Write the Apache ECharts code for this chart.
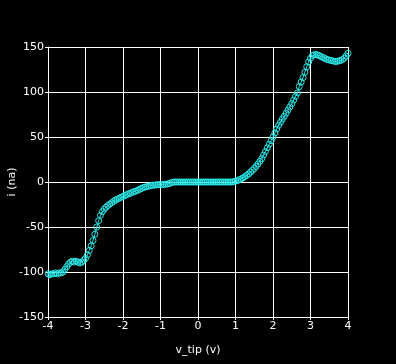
<!DOCTYPE html>
<html>
<head>
<meta charset="utf-8">
<script src="https://cdn.jsdelivr.net/npm/echarts@6/dist/echarts.min.js"></script>
<style>html,body{margin:0;padding:0;background:#000;}#c{width:396px;height:364px;}</style>
</head>
<body>
<div id="c"></div>
<script>
var vTip = [-4.00,-3.95,-3.90,-3.85,-3.80,-3.75,-3.70,-3.65,-3.60,-3.55,-3.50,-3.45,-3.40,-3.35,-3.30,-3.25,-3.20,-3.15,-3.10,-3.05,
-3.00,-2.95,-2.90,-2.85,-2.80,-2.75,-2.70,-2.65,-2.60,-2.55,-2.50,-2.45,-2.40,-2.35,-2.30,-2.25,-2.20,-2.15,-2.10,-2.05,
-2.00,-1.95,-1.90,-1.85,-1.80,-1.75,-1.70,-1.65,-1.60,-1.55,-1.50,-1.45,-1.40,-1.35,-1.30,-1.25,-1.20,-1.15,-1.10,-1.05,
-1.00,-0.95,-0.90,-0.85,-0.80,-0.75,-0.70,-0.65,-0.60,-0.55,-0.50,-0.45,-0.40,-0.35,-0.30,-0.25,-0.20,-0.15,-0.10,-0.05,
0.00,0.05,0.10,0.15,0.20,0.25,0.30,0.35,0.40,0.45,0.50,0.55,0.60,0.65,0.70,0.75,0.80,0.85,0.90,0.95,
1.00,1.05,1.10,1.15,1.20,1.25,1.30,1.35,1.40,1.45,1.50,1.55,1.60,1.65,1.70,1.75,1.80,1.85,1.90,1.95,
2.00,2.05,2.10,2.15,2.20,2.25,2.30,2.35,2.40,2.45,2.50,2.55,2.60,2.65,2.70,2.75,2.80,2.85,2.90,2.95,
3.00,3.05,3.10,3.15,3.20,3.25,3.30,3.35,3.40,3.45,3.50,3.55,3.60,3.65,3.70,3.75,3.80,3.85,3.90,3.95,4.00];
var current = [-102,-103,-102,-102,-101,-102,-101,-101,-100,-97,-94,-91,-89,-88,-89,-88,-89,-90,-89,-87,
-85,-81,-76,-71,-65,-58,-50,-43,-37,-33,-30,-28,-26,-24.5,-23,-21.5,-20,-19,-18,-17,
-16,-15,-14,-13,-12.5,-11.5,-10.5,-10,-9,-8,-7,-6,-5.5,-5,-4.5,-4,-3.5,-3.5,-3,-3,
-3,-3,-2.5,-2.5,-2,-1.5,-0.5,0,0,0,0,0,0,0,0,0,0,0,0,0,
0,0,0,0,0,0,0,0,0,0,0,0,0,0,0,0,0,0,0,0.5,
1,1.5,2.5,3.5,4.5,6,7.5,9,11,13,15,17.5,20,23,26,30,34,38,42,46,
50,54.5,59,63,66.5,70,73,76.5,80,83.5,87,91,95,99,106,111,116,122,128,133.5,
137.5,140.5,141.5,141.5,141,140,139,138,137,136,135.5,135,134.5,134,134,134.5,135,136,137.5,140,143];
var xTicks = {min: -4, max: 4, step: 1};
var yTicks = {min: -150, max: 150, step: 50};

var pts = vTip.map(function (v, k) { return [v, current[k]]; });
var chart = echarts.init(document.getElementById('c'), null, {renderer: 'canvas'});
var txt = {color: '#fff', fontFamily: 'DejaVu Sans', fontSize: 11};
var cyan = '#2ae8e8';
chart.setOption({
  backgroundColor: '#000',
  animation: false,
  grid: {left: 48, right: 48, top: 47, bottom: 47, show: false, containLabel: false, outerBoundsMode: 'none'},
  xAxis: {
    type: 'value', min: xTicks.min, max: xTicks.max, interval: xTicks.step,
    name: 'v_tip (v)', nameLocation: 'middle', nameGap: 28, nameMoveOverlap: false,
    nameTextStyle: txt,
    axisLine: {show: true, onZero: false, lineStyle: {color: '#fff', width: 1}},
    axisTick: {show: true, length: 3, lineStyle: {color: '#fff'}},
    axisLabel: Object.assign({margin: 4}, txt),
    splitLine: {show: true, lineStyle: {color: '#fff', width: 1}}
  },
  yAxis: {
    type: 'value', min: yTicks.min, max: yTicks.max, interval: yTicks.step,
    name: 'i (na)', nameLocation: 'middle', nameGap: 30, nameRotate: 90, nameMoveOverlap: false,
    nameTextStyle: txt,
    axisLine: {show: true, onZero: false, lineStyle: {color: '#fff', width: 1}},
    axisTick: {show: true, length: 3, lineStyle: {color: '#fff'}},
    axisLabel: Object.assign({margin: 4}, txt),
    splitLine: {show: true, lineStyle: {color: '#fff', width: 1}}
  },
  series: [{
    type: 'line',
    data: pts,
    symbol: 'circle',
    symbolSize: 6,
    showAllSymbol: true,
    color: cyan,
    lineStyle: {color: cyan, width: 1},
    itemStyle: {color: 'rgba(0,0,0,0)', borderColor: cyan, borderWidth: 1},
    z: 3
  }]
});
</script>
</body>
</html>
